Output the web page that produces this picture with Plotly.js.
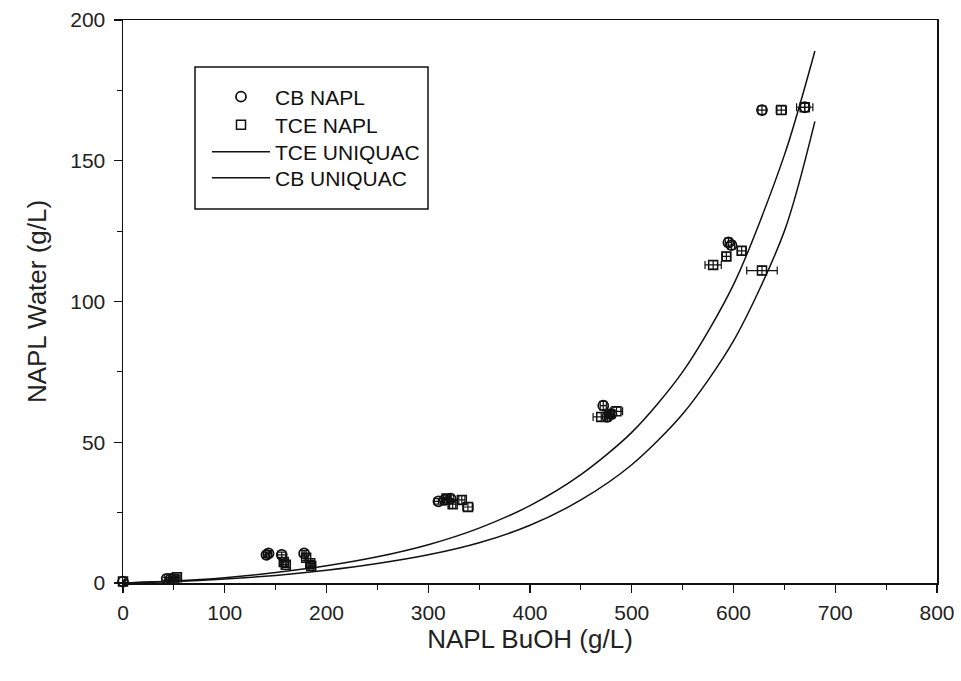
<!DOCTYPE html>
<html>
<head>
<meta charset="utf-8">
<script src="https://cdn.plot.ly/plotly-3.0.1.min.js"></script>
<style>html,body{margin:0;padding:0;background:#fff;}#chart{width:961px;height:681px;}</style>
</head>
<body>
<div id="chart"></div>
<script>
// CB NAPL measurements
const cbX = [0, 43, 47, 141, 143, 156, 178, 310, 316, 322, 472, 476, 480, 595, 598, 628, 670];
const cbY = [0.5, 1.5, 1.5, 10, 10.5, 10, 10.5, 29, 29.5, 30, 63, 59, 60, 121, 120, 168, 169];
const cbErrX = [2, 2, 2, 3, 3, 4, 2, 4, 3, 3, 3, 3, 3, 3, 3, 4, 4];
const cbErrY = [0.5, 0.5, 0.5, 1, 1, 1, 1, 1, 1, 1, 1.5, 1.5, 1.5, 1.5, 1.5, 1.5, 1.5];

// TCE NAPL measurements
const tceX = [0, 50, 53, 158, 160, 180, 184, 185, 318, 324, 333, 339, 470, 478, 485, 580, 593, 608, 628, 647, 670];
const tceY = [0.5, 1.5, 2, 7.5, 6.5, 9, 7, 6, 30, 28, 29.5, 27, 59, 60, 61, 113, 116, 118, 111, 168, 169];
const tceErrX = [2, 3, 3, 3, 3, 2, 2, 2, 3, 3, 3, 5, 8, 4, 6, 8, 4, 4, 15, 5, 8];
const tceErrY = [0.5, 0.5, 0.5, 1, 1, 1, 1, 1, 1.5, 1.5, 1.5, 1.5, 1.5, 1.5, 1.5, 1.5, 1.5, 1.5, 1.5, 1.5, 1.5];

// UNIQUAC model curves
const tceModelX = [0, 50, 100, 150, 200, 250, 300, 350, 400, 450, 500, 550, 600, 650, 680];
const tceModelY = [0, 0.7, 1.9, 3.7, 6.1, 9.3, 13.6, 19.5, 27.5, 38.5, 53.5, 75, 106, 152, 189];
const cbModelX  = [0, 50, 100, 150, 200, 250, 300, 350, 400, 450, 500, 550, 600, 650, 680];
const cbModelY  = [0, 0.5, 1.4, 2.7, 4.5, 6.9, 10, 14.3, 20.5, 29.5, 42, 60, 86, 125, 164];

const xTicks = [0, 100, 200, 300, 400, 500, 600, 700, 800];
const yTicks = [0, 50, 100, 150, 200];

const ink = '#111';
const fontFam = 'Liberation Sans, Arial, Helvetica, sans-serif';

const traces = [
  {x: cbX, y: cbY, name: 'CB NAPL', type: 'scatter', mode: 'markers', cliponaxis: false, legend: 'legend',
   marker: {symbol: 'circle-open', size: 10, color: ink, line: {width: 1.8, color: ink}},
   error_x: {type: 'data', array: cbErrX, color: ink, thickness: 1.2, width: 4},
   error_y: {type: 'data', array: cbErrY, color: ink, thickness: 1.2, width: 4}},
  {x: tceX, y: tceY, name: 'TCE NAPL', type: 'scatter', mode: 'markers', cliponaxis: false, legend: 'legend2',
   marker: {symbol: 'square-open', size: 9, color: ink, line: {width: 1.5, color: ink}},
   error_x: {type: 'data', array: tceErrX, color: ink, thickness: 1.2, width: 4},
   error_y: {type: 'data', array: tceErrY, color: ink, thickness: 1.2, width: 4}},
  {x: tceModelX, y: tceModelY, name: 'TCE UNIQUAC', type: 'scatter', mode: 'lines', legend: 'legend3',
   line: {color: ink, width: 1.5, shape: 'spline', smoothing: 0.8}},
  {x: cbModelX, y: cbModelY, name: 'CB UNIQUAC', type: 'scatter', mode: 'lines', legend: 'legend4',
   line: {color: ink, width: 1.5, shape: 'spline', smoothing: 0.8}}
];

const plotL = 123, plotT = 20, plotW = 814, plotH = 563;
const px2x = p => (p - plotL) / plotW;
const px2y = p => (plotT + plotH - p) / plotH;

function legendAt(yPix) {
  return {x: px2x(207), y: px2y(yPix), xanchor: 'left', yanchor: 'middle',
          bgcolor: 'rgba(0,0,0,0)', borderwidth: 0, itemwidth: 58,
          font: {family: fontFam, size: 21, color: '#111'}};
}

const layout = {
  width: 961, height: 681,
  margin: {l: 123, r: 24, t: 20, b: 98},
  paper_bgcolor: '#fff', plot_bgcolor: '#fff',
  font: {family: fontFam, color: '#222', size: 21},
  showlegend: true,
  legend: legendAt(97),
  legend2: legendAt(125),
  legend3: legendAt(152),
  legend4: legendAt(178),
  shapes: [{type: 'rect', xref: 'paper', yref: 'paper',
            x0: px2x(195), x1: px2x(428), y0: px2y(209), y1: px2y(67),
            line: {color: ink, width: 1.5}, fillcolor: 'rgba(0,0,0,0)'}],
  xaxis: {range: [0, 800], tickvals: xTicks, ticktext: xTicks.map(String),
          showgrid: false, zeroline: false, showline: true, linecolor: ink, linewidth: 1.5, mirror: true,
          ticks: 'outside', ticklen: 8, tickwidth: 1.2, tickcolor: ink, ticklabelstandoff: 2,
          minor: {dtick: 50, tick0: 0, ticks: 'outside', ticklen: 5, tickwidth: 1, tickcolor: ink, showgrid: false},
          tickfont: {size: 21, color: '#222'},
          title: {text: 'NAPL BuOH (g/L)', font: {size: 26, color: '#222'}, standoff: 4}},
  yaxis: {range: [0, 200], tickvals: yTicks, ticktext: yTicks.map(String),
          showgrid: false, zeroline: false, showline: true, linecolor: ink, linewidth: 1.5, mirror: true,
          ticks: 'outside', ticklen: 8, tickwidth: 1.2, tickcolor: ink, ticklabelstandoff: 4,
          minor: {dtick: 25, tick0: 0, ticks: 'outside', ticklen: 5, tickwidth: 1, tickcolor: ink, showgrid: false},
          tickfont: {size: 21, color: '#222'},
          title: {text: 'NAPL Water (g/L)', font: {size: 26, color: '#222'}, standoff: 16}}
};

Plotly.newPlot('chart', traces, layout, {displayModeBar: false, staticPlot: true});
</script>
</body>
</html>
